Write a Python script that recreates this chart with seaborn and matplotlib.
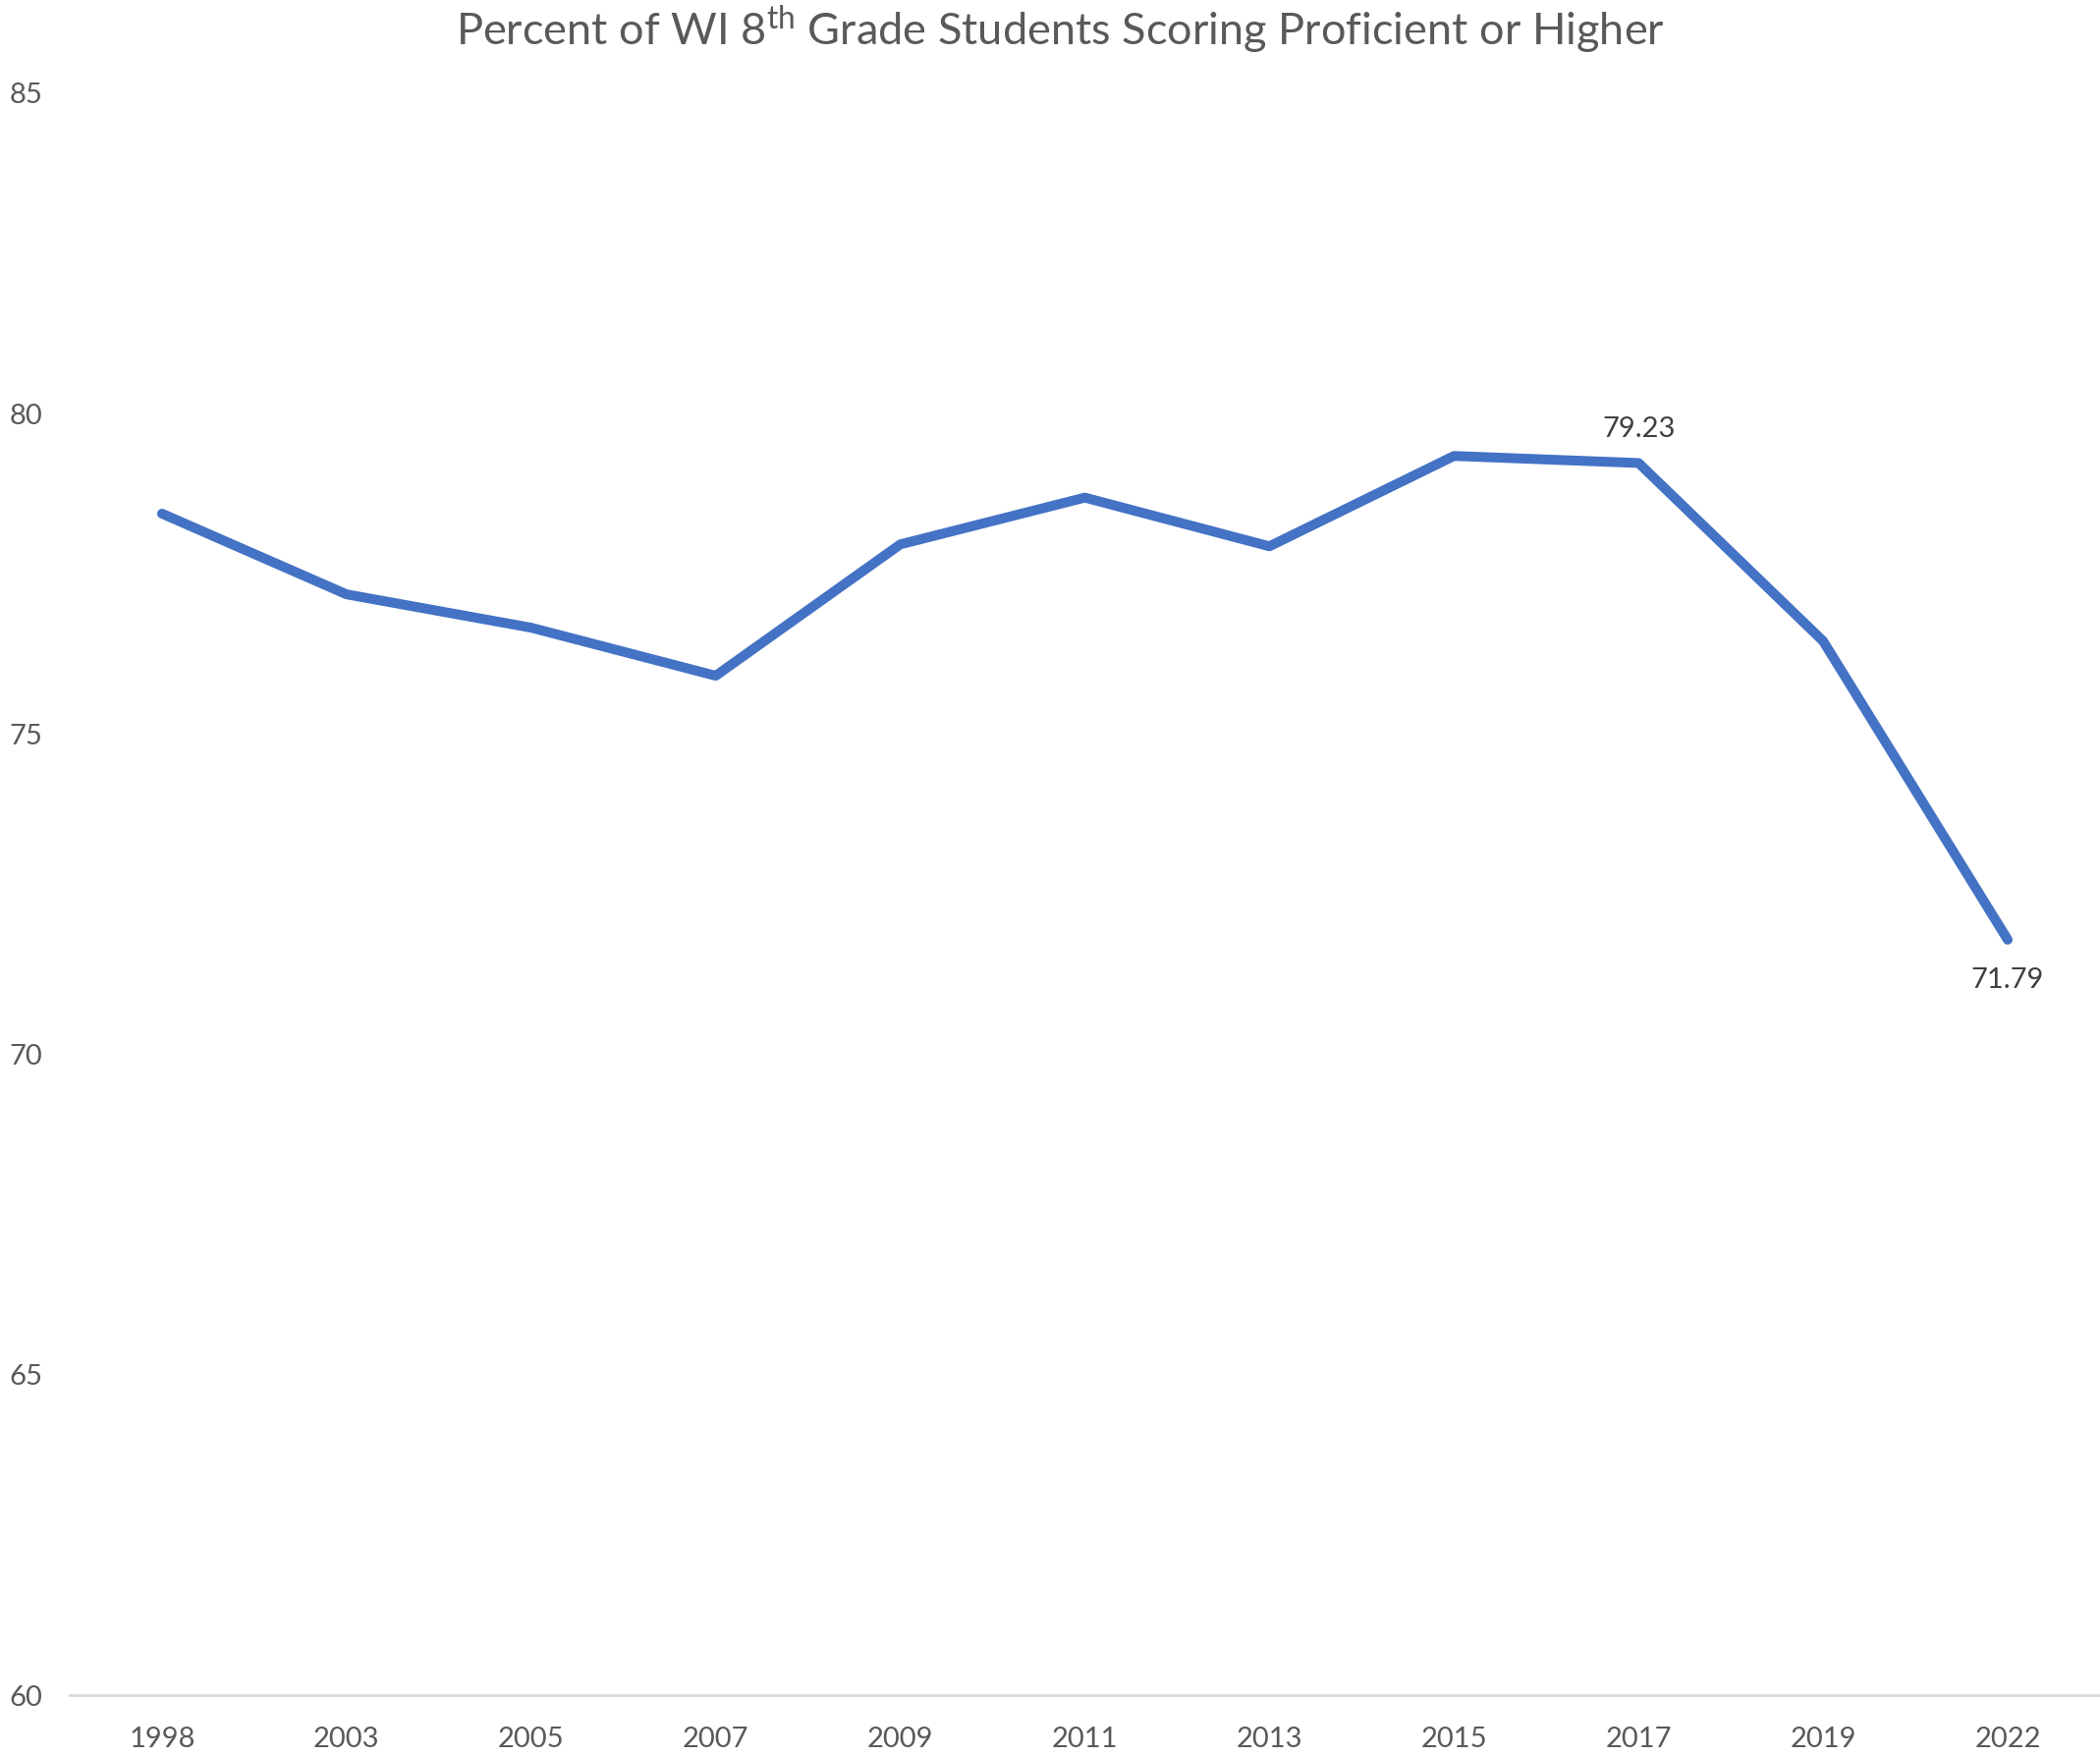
import seaborn as sns
import matplotlib.pyplot as plt
import pandas as pd

years = ['1998', '2003', '2005', '2007', '2009', '2011', '2013', '2015', '2017', '2019', '2022']
pct = [78.44, 77.18, 76.66, 75.91, 77.96, 78.69, 77.93, 79.34, 79.23, 76.45, 71.79]
labeled = {'2017': 'above', '2022': 'below'}

df = pd.DataFrame({'year': years, 'pct': pct})

sns.set_style('white')
plt.rcParams['font.family'] = ['Lato', 'DejaVu Sans']
plt.rcParams['mathtext.fontset'] = 'custom'
plt.rcParams['mathtext.rm'] = 'Lato'

fig = plt.figure(figsize=(21.38, 17.89), dpi=100)
ax = fig.add_axes([0.0332, 0.0352, 0.9668, 0.9117])

sns.lineplot(data=df, x='year', y='pct', ax=ax, color='#4472C4',
             linewidth=7.2, solid_capstyle='round', solid_joinstyle='round',
             sort=False)

for i, (yr, v) in enumerate(zip(years, pct)):
    if yr in labeled:
        off = 25 if labeled[yr] == 'above' else -30
        ax.annotate(f'{v:.2f}', (i, v), xytext=(0, off), textcoords='offset points',
                    ha='center', va='center', fontsize=21, color='#404040')

ax.set_xlim(-0.5, len(years) - 0.5)
ax.set_ylim(60, 85)
ax.set_yticks([60, 65, 70, 75, 80, 85])
ax.set_xlabel('')
ax.set_ylabel('')
ax.tick_params(axis='both', length=0, labelsize=21, labelcolor='#595959')
ax.tick_params(axis='y', pad=20)
ax.tick_params(axis='x', pad=23)
for s in ['top', 'right', 'left']:
    ax.spines[s].set_visible(False)
ax.spines['bottom'].set_color('#D9D9D9')
ax.spines['bottom'].set_linewidth(2)

fig.text(0.505, 0.983, r'Percent of WI 8$^{\mathrm{th}}$ Grade Students Scoring Proficient or Higher',
         ha='center', va='center', fontsize=32.5, color='#595959')

plt.savefig('out.png', dpi=100)
